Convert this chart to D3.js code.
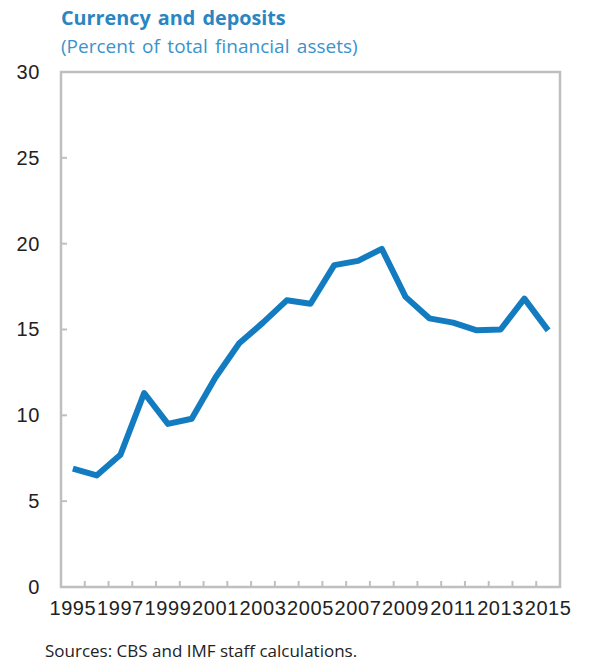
<!DOCTYPE html>
<html>
<head>
<meta charset="utf-8">
<script src="https://cdn.jsdelivr.net/npm/d3@7"></script>
<style>
  body { margin: 0; background: #fff; }
  svg { display: block; font-family: "Open Sans", "Noto Sans", sans-serif; }
</style>
</head>
<body>
<div class="chart"></div>
<script>
var years = d3.range(1995, 2016).map(String);
var shares = [6.9, 6.5, 7.7, 11.3, 9.5, 9.8, 12.2, 14.2, 15.4, 16.7, 16.5,
              18.75, 19.0, 19.7, 16.9, 15.65, 15.4, 14.95, 15.0, 16.8, 14.95];
var yTicks = [0, 5, 10, 15, 20, 25, 30];
var xLabels = years.filter((d, i) => i % 2 === 0);

var width = 592;
var height = 666;
var plot = {left: 61, right: 560, top: 72, bottom: 587};

var svg = d3.select('.chart').append("svg")
    .attr("width", width)
    .attr("height", height);

/* Scale */
var xScale = d3.scaleBand()
    .domain(years)
    .range([plot.left, plot.right]);

var yScale = d3.scaleLinear()
    .domain([0, 30])
    .range([plot.bottom, plot.top]);

var blue = "#137cc0";
var frame = "#bfbfbf";

/* Titles */
svg.append("text")
    .attr("x", 61).attr("y", 25)
    .attr("fill", "#2a86c2")
    .style("font-size", "19.8px").style("font-weight", "bold")
    .style("word-spacing", "2px")
    .text("Currency and deposits");

svg.append("text")
    .attr("x", 61).attr("y", 53)
    .attr("fill", "#3a93cc")
    .style("font-size", "19px")
    .style("word-spacing", "2.5px")
    .text("(Percent of total financial assets)");

/* Frame */
svg.append("rect")
    .attr("x", plot.left).attr("y", plot.top)
    .attr("width", plot.right - plot.left)
    .attr("height", plot.bottom - plot.top)
    .attr("fill", "none")
    .attr("stroke", frame)
    .attr("stroke-width", 2.5);

/* Y axis */
var yAxis = d3.axisLeft(yScale).tickValues(yTicks).tickSize(0).tickPadding(21);
var gy = svg.append("g")
    .attr("transform", `translate(${plot.left}, 0)`)
    .call(yAxis);
gy.select(".domain").remove();
gy.selectAll("text").style("font-size", "20px").style("letter-spacing", "0.6px").attr("fill", "#222");

svg.append("g").selectAll("line")
    .data(yTicks.slice(1, -1)).enter()
    .append("line")
    .attr("x1", plot.left).attr("x2", plot.left + 6)
    .attr("y1", d => yScale(d)).attr("y2", d => yScale(d))
    .attr("stroke", frame).attr("stroke-width", 2);

/* X axis ticks at category boundaries */
svg.append("g").selectAll("line")
    .data(years.slice(1)).enter()
    .append("line")
    .attr("x1", d => xScale(d)).attr("x2", d => xScale(d))
    .attr("y1", plot.bottom).attr("y2", plot.bottom - 6)
    .attr("stroke", frame).attr("stroke-width", 2);

var xAxis = d3.axisBottom(xScale).tickValues(xLabels).tickSize(0).tickPadding(14);
var gx = svg.append("g")
    .attr("transform", `translate(0, ${plot.bottom})`)
    .call(xAxis);
gx.select(".domain").remove();
gx.selectAll("text").style("font-size", "20px").style("letter-spacing", "0.6px").attr("fill", "#222");

/* Line */
var line = d3.line()
    .x((d, i) => xScale(years[i]) + xScale.bandwidth() / 2)
    .y(d => yScale(d));

svg.append("path")
    .datum(shares)
    .attr("d", line)
    .attr("fill", "none")
    .attr("stroke", blue)
    .attr("stroke-width", 6)
    .attr("stroke-linejoin", "round");

/* Source */
svg.append("text")
    .attr("x", 45).attr("y", 657)
    .attr("fill", "#222")
    .style("font-size", "17px")
    .text("Sources: CBS and IMF staff calculations.");
</script>
</body>
</html>
